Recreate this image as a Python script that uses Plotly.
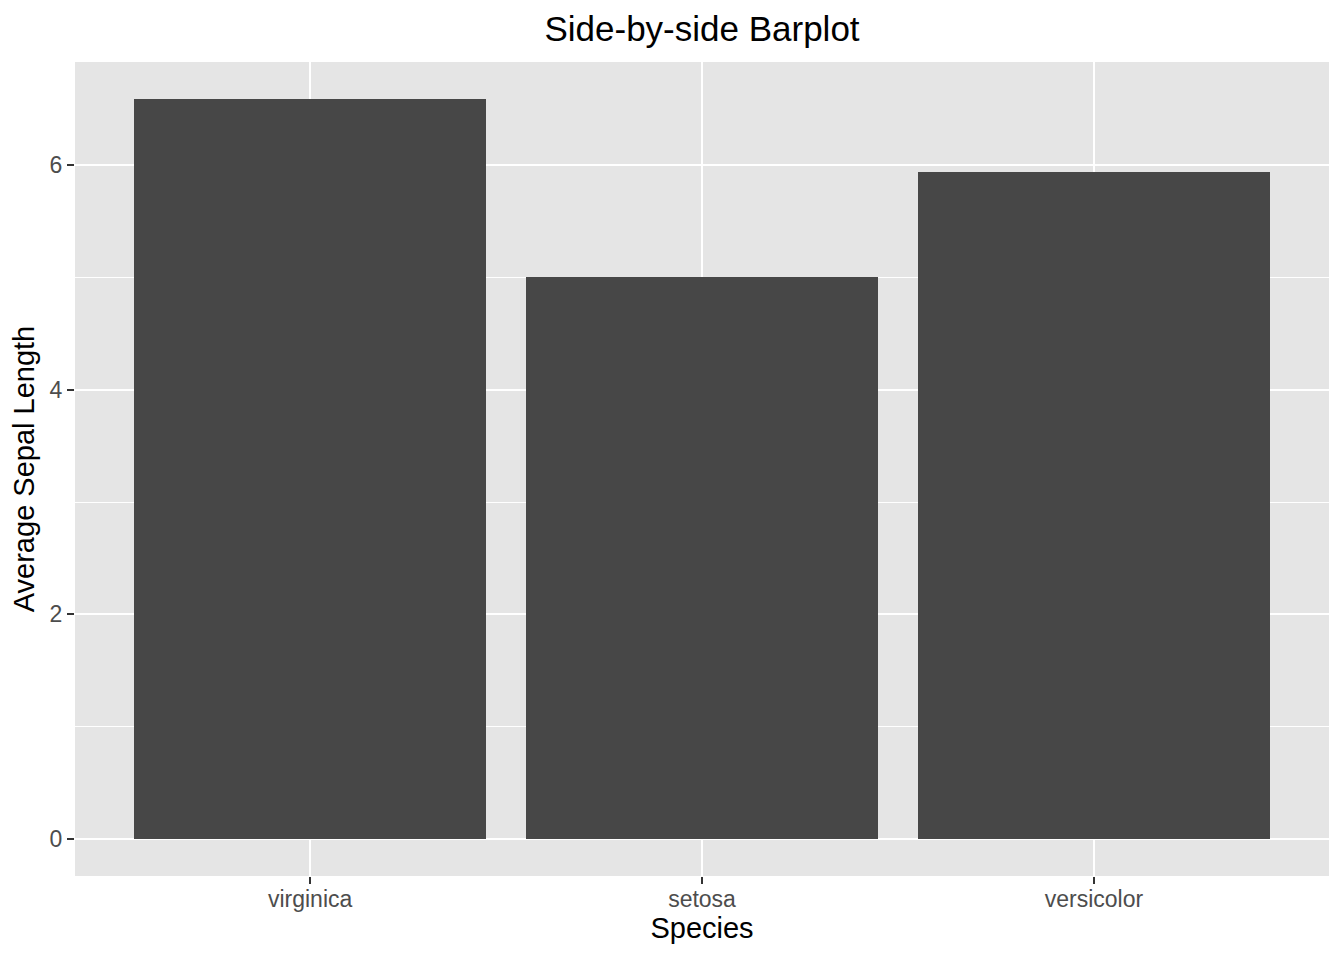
import plotly.graph_objects as go

# mean sepal length per species
species = ["virginica", "setosa", "versicolor"]
avg_sepal_length = [6.588, 5.006, 5.936]

fig = go.Figure(data=[
    go.Bar(
        x=species,
        y=avg_sepal_length,
        width=0.9,
        marker_color="#474747",
        marker_line_width=0,
    )
])

# page body adds an 8px offset, margins account for it
fig.update_layout(
    width=1344,
    height=960,
    title=dict(text="Side-by-side Barplot", x=0.5, xanchor="center",
               xref="paper", y=0.978, yanchor="middle",
               font=dict(size=35, color="black")),
    font=dict(family="Liberation Sans, Arial, sans-serif", size=23, color="#4D4D4D"),
    plot_bgcolor="#E5E5E5",
    paper_bgcolor="white",
    margin=dict(l=67, r=23, t=54, b=92),
    showlegend=False,
    bargap=0,
)

fig.update_xaxes(
    title=dict(text="Species", font=dict(size=29, color="black"), standoff=6),
    range=[-0.6, 2.6],
    showgrid=True, gridcolor="white", gridwidth=2,
    ticks="outside", ticklen=7, tickwidth=2, tickcolor="#333333",
    ticklabelstandoff=-5,
    zeroline=False, showline=False,
)

fig.update_yaxes(
    title=dict(text="Average Sepal Length", font=dict(size=29, color="black"), standoff=6),
    range=[-0.33, 6.918],
    dtick=2, tick0=0,
    showgrid=True, gridcolor="white", gridwidth=2,
    minor=dict(dtick=1, showgrid=True, gridcolor="white", gridwidth=1),
    ticks="outside", ticklen=7, tickwidth=2, tickcolor="#333333",
    zeroline=False, showline=False,
)

fig.write_html("out.html")
